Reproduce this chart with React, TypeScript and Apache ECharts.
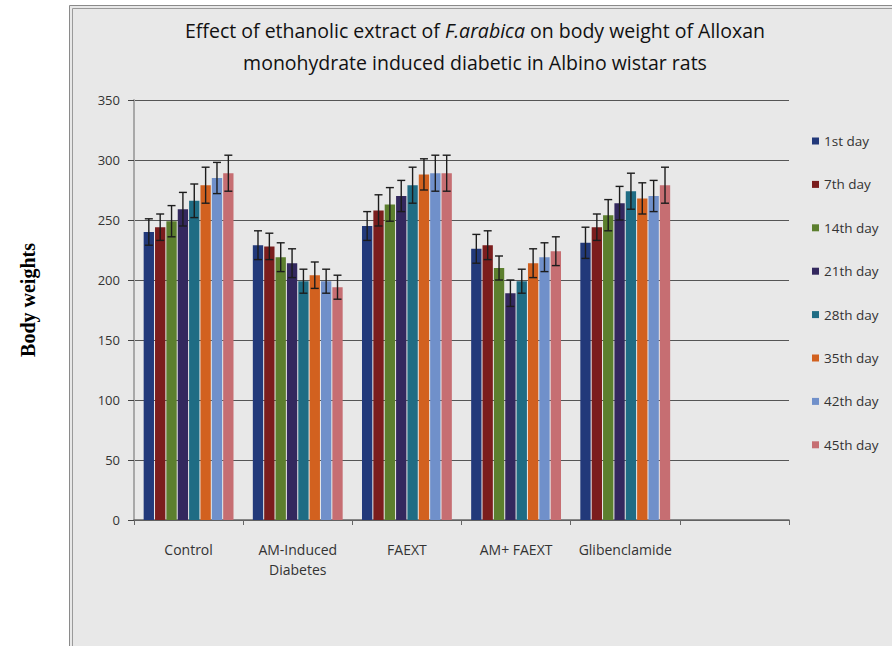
import React, { useEffect, useRef } from "react";
import * as echarts from "echarts";

const categories = ["Control", "AM-Induced\nDiabetes", "FAEXT", "AM+ FAEXT", "Glibenclamide", ""];
const seriesNames = ["1st day", "7th day", "14th day", "21th day", "28th day", "35th day", "42th day", "45th day"];
const colors = ["#22397A", "#7B1D1D", "#5C7F2E", "#33285E", "#1F6C84", "#D2611F", "#7090CA", "#C66E72"];

const day1 = [240, 229, 245, 226, 231];
const day7 = [244, 228, 258, 229, 244];
const day14 = [249, 219, 263, 210, 254];
const day21 = [259, 214, 270, 189, 264];
const day28 = [266, 199, 279, 199, 274];
const day35 = [279, 204, 288, 214, 268];
const day42 = [285, 199, 289, 219, 270];
const day45 = [289, 194, 289, 224, 279];

const err1 = [11, 12, 12, 12, 13];
const err7 = [11, 11, 13, 12, 11];
const err14 = [13, 12, 14, 10, 13];
const err21 = [14, 12, 13, 11, 14];
const err28 = [14, 10, 15, 10, 15];
const err35 = [15, 11, 13, 12, 13];
const err42 = [13, 10, 15, 12, 13];
const err45 = [15, 10, 15, 12, 15];

const yTicks = { min: 0, max: 350, interval: 50 };

const values = [day1, day7, day14, day21, day28, day35, day42, day45];
const errors = [err1, err7, err14, err21, err28, err35, err42, err45];

const CAT_GAP = 0.177;
const BAR_GAP = 0.1;
const FONT = "'Open Sans', 'Noto Sans', sans-serif";

export default function App() {
  const ref = useRef<HTMLDivElement>(null);
  useEffect(() => {
    if (!ref.current) return;
    const chart = echarts.init(ref.current, null, { renderer: "svg" });
    const n = seriesNames.length;
    const barSeries = seriesNames.map((name, si) => ({
      name,
      type: "bar",
      data: values[si],
      barCategoryGap: (CAT_GAP * 100).toFixed(1) + "%",
      barGap: BAR_GAP * 100 + "%",
      itemStyle: { color: colors[si] },
      z: 2,
    }));
    const errData: number[][] = [];
    values.forEach((arr, si) => {
      arr.forEach((v, ci) => errData.push([ci, v, errors[si][ci], si]));
    });
    const errSeries = {
      type: "custom",
      name: "err",
      data: errData,
      encode: { x: 0, y: 1 },
      z: 5,
      silent: true,
      renderItem: (params: any, api: any) => {
        const cat = api.value(0);
        const val = api.value(1);
        const err = api.value(2);
        const si = api.value(3);
        const base = api.coord([cat, val]);
        const band = api.size([1, 0])[0];
        const w = (band * (1 - CAT_GAP)) / (n + (n - 1) * BAR_GAP);
        const total = n * w + (n - 1) * BAR_GAP * w;
        const x = base[0] - total / 2 + si * w * (1 + BAR_GAP) + w / 2;
        const top = api.coord([cat, val + err])[1];
        const bot = api.coord([cat, val - err])[1];
        const cap = 4;
        const st = { stroke: "#1c1c1c", lineWidth: 1.4 };
        return {
          type: "group",
          children: [
            { type: "line", shape: { x1: x, y1: top, x2: x, y2: bot }, style: st },
            { type: "line", shape: { x1: x - cap, y1: top, x2: x + cap, y2: top }, style: st },
            { type: "line", shape: { x1: x - cap, y1: bot, x2: x + cap, y2: bot }, style: st },
          ],
        };
      },
    };
    chart.setOption({
      animation: false,
      backgroundColor: "#ffffff",
      textStyle: { fontFamily: FONT },
      graphic: [
        {
          type: "rect",
          z: -10,
          shape: { x: 69.5, y: 5.5, width: 900, height: 700 },
          style: { fill: "#E8E8E8", stroke: "#8A8A8A", lineWidth: 1 },
        },
        {
          type: "rect",
          z: -9,
          shape: { x: 72.5, y: 8.5, width: 900, height: 700 },
          style: { fill: "none", stroke: "#9A9A9A", lineWidth: 1 },
        },
        {
          type: "text",
          x: 475,
          y: 30,
          style: {
            text: "{a|Effect of ethanolic extract of }{b|F.arabica}{a| on body weight of Alloxan}",
            align: "center",
            verticalAlign: "middle",
            rich: {
              a: { fontSize: 19.5, fontFamily: FONT, fill: "#111", color: "#111" },
              b: { fontSize: 19.5, fontFamily: FONT, fontStyle: "italic", fill: "#111", color: "#111" },
            },
          },
        },
        {
          type: "text",
          x: 475,
          y: 62,
          style: {
            text: "monohydrate induced diabetic in Albino wistar rats",
            align: "center",
            verticalAlign: "middle",
            fontSize: 19.5,
            fontFamily: FONT,
            fill: "#111",
          },
        },
        {
          type: "text",
          x: 28,
          y: 300,
          rotation: Math.PI / 2,
          style: {
            text: "Body weights",
            align: "center",
            verticalAlign: "middle",
            fontSize: 20,
            fontWeight: "bold",
            fontFamily: "'Liberation Serif', 'DejaVu Serif', serif",
            fill: "#000",
          },
        },
      ],
      grid: { left: 134, right: 103, top: 100, bottom: 126, containLabel: false },
      legend: {
        data: seriesNames,
        orient: "vertical",
        left: 812,
        top: 134,
        padding: 0,
        itemWidth: 7,
        itemHeight: 7,
        itemGap: 29.4,
        icon: "rect",
        textStyle: { fontSize: 13.5, color: "#333", fontFamily: FONT, lineHeight: 14 },
        selectedMode: false,
      },
      xAxis: {
        type: "category",
        data: categories,
        axisLine: { lineStyle: { color: "#666", width: 1.5 } },
        axisTick: { show: true, length: 5, lineStyle: { color: "#666" } },
        axisLabel: { fontSize: 14, color: "#333", margin: 19, lineHeight: 20, fontFamily: FONT, interval: 0 },
        splitLine: { show: false },
      },
      yAxis: {
        type: "value",
        min: yTicks.min,
        max: yTicks.max,
        interval: yTicks.interval,
        axisLine: { show: true, lineStyle: { color: "#A8A8A8", width: 2 } },
        axisTick: { show: true, length: 6, lineStyle: { color: "#444" } },
        axisLabel: { fontSize: 13, color: "#333", margin: 14, fontFamily: FONT },
        splitLine: { show: true, lineStyle: { color: "#555", width: 1 } },
      },
      series: [...barSeries, errSeries],
    });
    return () => chart.dispose();
  }, []);
  return (
    <div
      ref={ref}
      style={{ position: "fixed", left: 0, top: 0, width: 892, height: 646 }}
    />
  );
}
